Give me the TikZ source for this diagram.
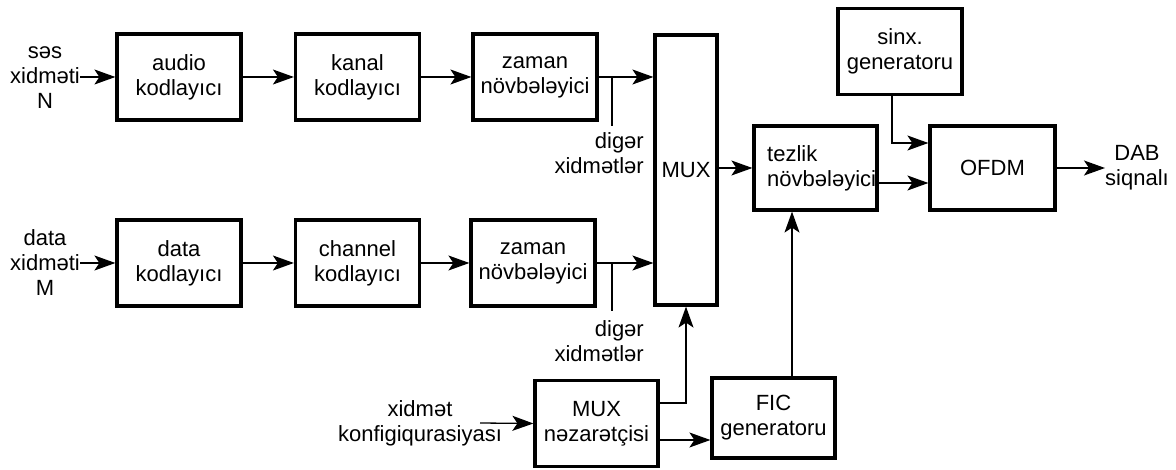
\documentclass[tikz,border=0pt]{standalone}
\usepackage{fontspec}
\setmainfont{Liberation Sans}
\usetikzlibrary{arrows.meta}
\begin{document}
\begin{tikzpicture}[x=1pt,y=-1pt,
  font=\fontsize{22}{25}\selectfont,
  blk/.style={draw,line width=3.2pt,rectangle,minimum width=#1,minimum height=86pt,inner sep=0pt,align=center},
  blk/.default=124pt,
  lbl/.style={inner sep=0pt,align=center},
  arr/.style={line width=1.3pt,-{Stealth[length=21pt,width=15pt,inset=5pt]}},
  ln/.style={line width=1.3pt}]
\useasboundingbox (0,0) rectangle (1176,470);
% blocks
\node[blk] (audio) at (179,77) {audio\\kodlayıcı};
\node[blk] (kanal) at (357.5,77) {kanal\\kodlayıcı};
\node[blk] (zam1) at (535,77) {zaman\\növbələyici};
\node[blk] (data) at (179,263) {data\\kodlayıcı};
\node[blk] (chan) at (357.5,263) {channel\\kodlayıcı};
\node[blk] (zam2) at (533,263) {zaman\\növbələyici};
\node[blk=62pt,minimum height=270pt] (mux) at (686,170) {MUX};
\node[blk=123pt,minimum height=84pt] (tez) at (815.5,168) {};
\node[lbl,align=left,anchor=west] (teztxt) at (767,168) {tezlik\\növbələyici};
\node[blk] (sinx) at (900,51.5) {sinx.\\generatoru};
\node[blk=125pt,minimum height=84pt] (ofdm) at (992.5,168) {OFDM};
\node[blk=123pt] (nez) at (596.5,423.5) {MUX\\nəzarətçisi};
\node[blk=123pt,minimum height=80pt] (fic) at (773.5,418) {FIC\\generatoru};
% labels
\node[lbl] (in1) at (45,78) {səs\\xidməti\\N};
\node[lbl] (in2) at (45,263) {data\\xidməti\\M};
\node[lbl,align=right,anchor=east] (dig1) at (644,153) {digər\\xidmətlər};
\node[lbl,align=right,anchor=east] (dig2) at (644,341) {digər\\xidmətlər};
\node[lbl] (cfg) at (420,423) {xidmət\\konfigiqurasiyası};
\node[lbl] (dab) at (1137,168) {DAB\\siqnalı};
% coordinates
\coordinate (cfgend) at (480,423);
\coordinate (b1) at (612,78);
\coordinate (b1e) at (612,126);
\coordinate (b2) at (612,263);
\coordinate (b2e) at (612,311);
% connectors
\draw[arr] (in1.east |- audio.west) -- (audio.west);
\draw[arr] (audio) -- (kanal);
\draw[arr] (kanal) -- (zam1);
\draw[arr] (zam1.east) -- (zam1.east -| mux.west);
\draw[ln] (b1) -- (b1e);
\draw[arr] (in2.east |- data.west) -- (data.west);
\draw[arr] (data) -- (chan);
\draw[arr] (chan) -- (zam2);
\draw[arr] (zam2.east) -- (zam2.east -| mux.west);
\draw[ln] (b2) -- (b2e);
\draw[arr] (mux.east |- tez.west) -- (tez.west);
\draw[arr] ([yshift=-15pt]tez.east) -- ([yshift=-15pt]tez.east -| ofdm.west);
\draw[arr] ([xshift=-8pt]sinx.south) |- ([yshift=25pt]ofdm.west);
\draw[arr] (ofdm.east) -- (dab.west);
\draw[arr] (cfgend) -- (nez.west);
\draw[arr] ([yshift=20.5pt]nez.east) -| (mux.south);
\draw[arr] ([yshift=-16.5pt]nez.east) -- ([yshift=-16.5pt]nez.east -| fic.west);
\draw[arr] ([xshift=18.5pt]fic.north) -- ([xshift=18.5pt]fic.north |- tez.south);
\end{tikzpicture}
\end{document}
